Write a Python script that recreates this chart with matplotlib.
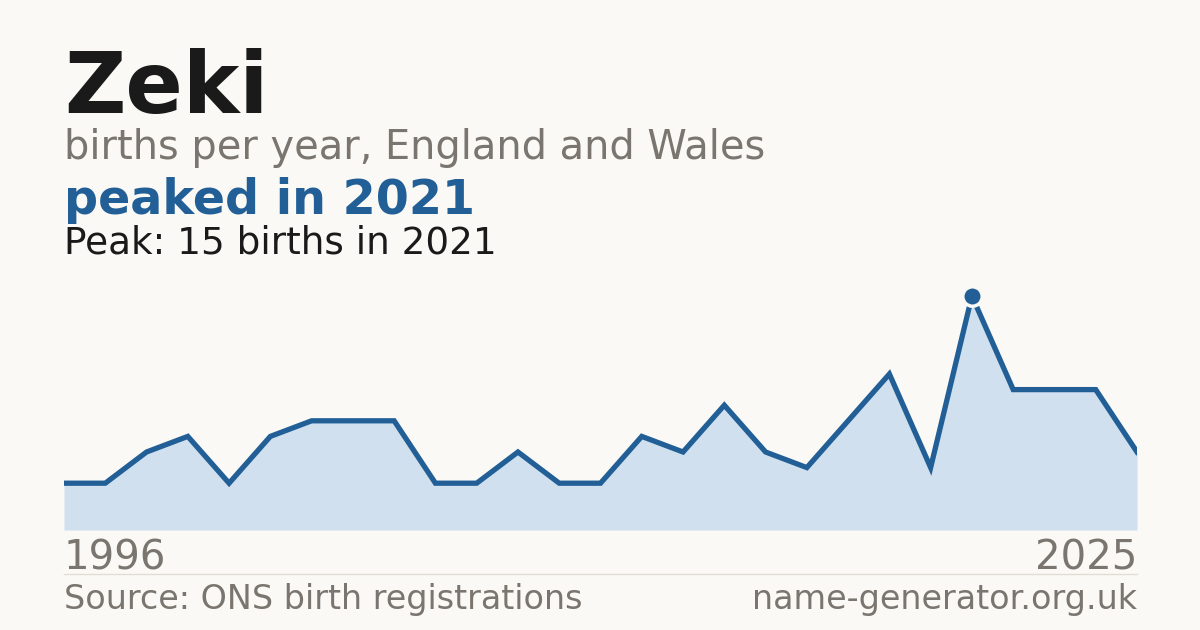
import matplotlib
matplotlib.use("Agg")
import matplotlib.pyplot as plt

plt.rcParams["font.family"] = ["DejaVu Sans"]

# years with recorded births (a few years have no data and are skipped)
years = [1996, 1997, 1998, 1999, 2001, 2002, 2003, 2004, 2005, 2007,
         2008, 2009, 2010, 2011, 2012, 2014, 2015, 2016, 2017, 2018,
         2019, 2020, 2021, 2022, 2023, 2024, 2025]
births = [3, 3, 5, 6, 3, 6, 7, 7, 7, 3,
          3, 5, 3, 3, 6, 5, 8, 5, 4, 7,
          10, 4, 15, 9, 9, 9, 5]

name = "Zeki"
peak_year = 2021
peak_value = 15

bg = "#faf9f5"
blue = "#215f96"
fill = "#d0e0ef"
grey = "#7a756e"
dark = "#1a1a1a"

W, H = 1200, 630
fig = plt.figure(figsize=(12, 6.3), dpi=100, facecolor=bg)

# chart area: x 64..1137 px, y 0 at 530 px, peak at 296 px
left, right = 64 / W, 1137 / W
bottom = 1 - 530 / H
top = 1 - 296 / H
ax = fig.add_axes([left, bottom, right - left, top - bottom])
ax.set_facecolor(bg)

x = list(range(len(years)))
ax.fill_between(x, births, 0, color=fill, linewidth=0)
ax.plot(x, births, color=blue, linewidth=3.8, solid_joinstyle="miter")
pi = years.index(peak_year)
ax.plot([x[pi]], [births[pi]], marker="o", markersize=14, color=blue,
        markeredgecolor=bg, markeredgewidth=2.5, clip_on=False, zorder=5)
ax.set_xlim(0, len(years) - 1)
ax.set_ylim(0, peak_value)
ax.axis("off")

fig.text(64 / W, 1 - 113 / H, name, fontsize=61, fontweight="bold",
         color=dark, ha="left", va="baseline")
fig.text(64 / W, 1 - 159 / H, "births per year, England and Wales",
         fontsize=28.7, color=grey, ha="left", va="baseline")
fig.text(64 / W, 1 - 214 / H, f"peaked in {peak_year}", fontsize=34.3,
         fontweight="bold", color=blue, ha="left", va="baseline")
fig.text(64 / W, 1 - 253 / H, f"Peak: {peak_value} births in {peak_year}",
         fontsize=26.9, color=dark, ha="left", va="baseline")

fig.text(64 / W, 1 - 569 / H, str(years[0]), fontsize=29, color=grey,
         ha="left", va="baseline")
fig.text(1137 / W, 1 - 569 / H, str(years[-1]), fontsize=29, color=grey,
         ha="right", va="baseline")

fig.add_artist(plt.Line2D([64 / W, 1137 / W], [1 - 574 / H, 1 - 574 / H],
                          color="#e0ddd6", linewidth=1))

fig.text(64 / W, 1 - 609 / H, "Source: ONS birth registrations",
         fontsize=24, color=grey, ha="left", va="baseline")
fig.text(1137 / W, 1 - 609 / H, "name-generator.org.uk",
         fontsize=24, color=grey, ha="right", va="baseline")

fig.savefig("out.png", dpi=100, facecolor=bg)
